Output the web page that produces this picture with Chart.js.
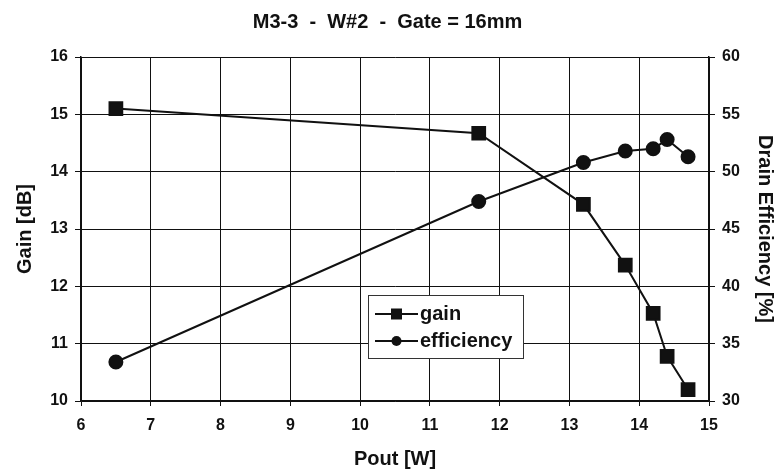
<!DOCTYPE html>
<html>
<head>
<meta charset="utf-8">
<script src="https://cdn.jsdelivr.net/npm/chart.js@4"></script>
<style>
  html, body { margin: 0; padding: 0; background: #fff; }
  #wrap { width: 775px; height: 473px; }
</style>
</head>
<body>
<div id="wrap"><canvas id="chart" width="775" height="473"></canvas></div>
<script>
// values
const poutW = [6.5, 11.7, 13.2, 13.8, 14.2, 14.4, 14.7];
const gainDb = [15.1, 14.67, 13.43, 12.37, 11.53, 10.78, 10.2];
const efficiencyPct = [33.4, 47.4, 50.8, 51.8, 52.0, 52.8, 51.3];
const chartTitle = 'M3-3  -  W#2  -  Gate = 16mm';
const legendLabels = ['gain', 'efficiency'];

const FONT = "'Liberation Sans', Arial, sans-serif";
const INK = '#111';

const toPoints = (xs, ys) => xs.map((x, i) => ({ x: x, y: ys[i] }));

// legend drawn inside the plot area, like the original
const boxLegend = {
  id: 'boxLegend',
  afterDatasetsDraw(chart) {
    const { ctx, chartArea } = chart;
    const left = chartArea.left + 287;
    const top = chartArea.top + 238;
    const w = 155, h = 63;
    ctx.save();
    ctx.fillStyle = '#fff';
    ctx.fillRect(left, top, w, h);
    ctx.strokeStyle = '#333';
    ctx.lineWidth = 1;
    ctx.strokeRect(left + 0.5, top + 0.5, w, h);
    chart.data.datasets.forEach((ds, i) => {
      const cy = top + 19 + i * 27;
      ctx.strokeStyle = INK;
      ctx.lineWidth = 2;
      ctx.beginPath();
      ctx.moveTo(left + 7, cy);
      ctx.lineTo(left + 50, cy);
      ctx.stroke();
      ctx.fillStyle = INK;
      if (ds.pointStyle === 'rect') {
        ctx.fillRect(left + 23, cy - 5.5, 11, 11);
      } else {
        ctx.beginPath();
        ctx.arc(left + 28.5, cy, 5, 0, Math.PI * 2);
        ctx.fill();
      }
      ctx.font = 'bold 20px ' + FONT;
      ctx.textBaseline = 'middle';
      ctx.fillText(legendLabels[i], left + 52, cy);
    });
    ctx.restore();
  }
};

const tickFont = { family: FONT, size: 16, weight: 'bold' };
const axisTitleFont = { family: FONT, size: 20, weight: 'bold' };

new Chart(document.getElementById('chart'), {
  type: 'line',
  data: {
    datasets: [
      {
        label: legendLabels[0],
        data: toPoints(poutW, gainDb),
        yAxisID: 'y',
        borderColor: INK,
        backgroundColor: INK,
        borderWidth: 2,
        pointStyle: 'rect',
        pointRadius: 9,
        pointHoverRadius: 9,
        tension: 0
      },
      {
        label: legendLabels[1],
        data: toPoints(poutW, efficiencyPct),
        yAxisID: 'y2',
        borderColor: INK,
        backgroundColor: INK,
        borderWidth: 2,
        pointStyle: 'circle',
        pointRadius: 6.5,
        pointHoverRadius: 6.5,
        tension: 0
      }
    ]
  },
  options: {
    responsive: false,
    animation: false,
    layout: { padding: 0 },
    plugins: {
      legend: { display: false },
      tooltip: { enabled: false },
      title: {
        display: true,
        text: chartTitle,
        color: INK,
        font: { family: FONT, size: 20, weight: 'bold', lineHeight: 1.2 },
        padding: { top: 10, bottom: 23 }
      }
    },
    scales: {
      x: {
        type: 'linear',
        min: 6,
        max: 15,
        ticks: { stepSize: 1, color: INK, font: tickFont, padding: 10 },
        grid: { color: INK, lineWidth: 1, tickLength: 5 },
        border: { color: INK, width: 1.5 },
        title: { display: true, text: 'Pout [W]', color: INK, font: axisTitleFont, padding: { top: 4, bottom: 2 } },
        afterFit(scale) { scale.height = 72; }
      },
      y: {
        position: 'left',
        min: 10,
        max: 16,
        ticks: { stepSize: 1, color: INK, font: tickFont, padding: 7 },
        grid: { color: INK, lineWidth: 1, tickLength: 6 },
        border: { color: INK, width: 1.5 },
        title: { display: true, text: 'Gain [dB]', color: INK, font: axisTitleFont, padding: { top: 13, bottom: 4 } },
        afterFit(scale) { scale.width = 81; }
      },
      y2: {
        position: 'right',
        min: 30,
        max: 60,
        ticks: { stepSize: 5, color: INK, font: tickFont, padding: 7 },
        grid: { drawOnChartArea: false, color: INK, tickLength: 6 },
        border: { color: INK, width: 1.5 },
        title: { display: true, text: 'Drain Efficiency [%]', color: INK, font: { family: FONT, size: 20, weight: 'bold', lineHeight: 1 }, padding: { top: 0, bottom: 0 } },
        afterFit(scale) { scale.width = 66; }
      }
    }
  },
  plugins: [boxLegend]
});
</script>
</body>
</html>
